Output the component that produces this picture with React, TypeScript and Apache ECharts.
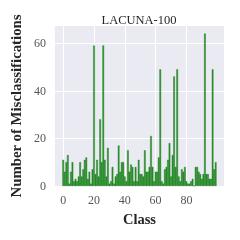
import React, { useEffect, useRef } from "react";
import * as echarts from "echarts";

const classes: number[] = Array.from({ length: 100 }, (_, i) => i);
const misclassifications: number[] = [
  11, 6, 10, 13, 1, 6, 10, 2, 3, 2,
  4, 10, 4, 7, 11, 12, 3, 6, 1, 7,
  59, 5, 11, 4, 28, 10, 59, 11, 4, 16,
  1, 2, 8, 1, 4, 5, 17, 6, 10, 10,
  4, 2, 15, 6, 9, 8, 2, 8, 2, 11,
  5, 5, 4, 15, 6, 6, 8, 21, 8, 2,
  6, 6, 12, 49, 2, 1, 7, 8, 11, 18,
  4, 13, 46, 8, 49, 4, 2, 7, 6, 8,
  2, 1, 1, 2, 3, 0, 8, 8, 6, 5,
  3, 5, 64, 5, 5, 3, 3, 49, 7, 10,
];
const xTicks: number[] = [0, 20, 40, 60, 80];
const yTicks: number[] = [0, 20, 40, 60];
const titleText = "LACUNA-100";

export default function App() {
  const ref = useRef<HTMLDivElement>(null);
  useEffect(() => {
    if (!ref.current) return;
    const chart = echarts.init(ref.current, null, { renderer: "svg" });
    const serif = "'Liberation Serif', 'DejaVu Serif', serif";
    chart.setOption({
      animation: false,
      graphic: [
        {
          type: "text",
          x: 139,
          y: 19.5,
          style: {
            text: titleText,
            align: "center",
            verticalAlign: "middle",
            fontFamily: serif,
            fontSize: 12.5,
            fill: "#262626",
          },
        },
      ],
      grid: {
        left: 54,
        right: 16,
        top: 26,
        bottom: 54,
        show: true,
        backgroundColor: "#EAEAF2",
        borderWidth: 0,
      },
      xAxis: {
        type: "value",
        min: -5.39,
        max: 104.39,
        name: "Class",
        nameLocation: "middle",
        nameGap: 25,
        nameTextStyle: { fontFamily: serif, fontSize: 14.5, fontWeight: "bold", color: "#262626" },
        axisLine: { show: false },
        axisTick: { show: false, customValues: xTicks },
        axisLabel: { customValues: xTicks, fontFamily: serif, fontSize: 12, color: "#555", margin: 8 },
        splitLine: { show: true, lineStyle: { color: "#ffffff", width: 1 } },
      },
      yAxis: {
        type: "value",
        min: 0,
        max: 67.2,
        name: "Number of Misclassifications",
        nameLocation: "middle",
        nameGap: 27,
        nameTextStyle: { fontFamily: serif, fontSize: 14.8, fontWeight: "bold", color: "#262626" },
        axisLine: { show: false },
        axisTick: { show: false, customValues: yTicks },
        axisLabel: { customValues: yTicks, fontFamily: serif, fontSize: 12, color: "#555", margin: 9 },
        splitLine: { show: true, lineStyle: { color: "#ffffff", width: 1 } },
      },
      series: [
        {
          type: "bar",
          data: classes.map((c, i) => [c, misclassifications[i]]),
          barWidth: 1.6,
          itemStyle: { color: "rgba(10,140,10,0.85)", borderColor: "#0f6f0f", borderWidth: 0.4 },
        },
      ],
    });
    return () => chart.dispose();
  }, []);
  return (
    <div
      ref={ref}
      style={{ position: "fixed", left: 0, top: 0, width: 240, height: 240 }}
    />
  );
}
